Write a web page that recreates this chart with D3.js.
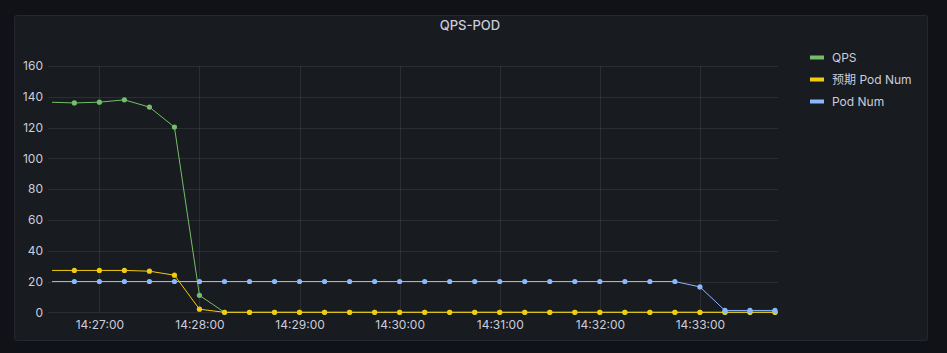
<!DOCTYPE html>
<html>
<head>
<meta charset="utf-8">
<script src="https://cdn.jsdelivr.net/npm/d3@7"></script>
<style>
	body { margin: 0; background: #111217; }
	#chart { width: 947px; height: 353px; }
	text { font-family: Inter, "Noto Sans CJK SC", sans-serif; }
</style>
</head>
<body>
<div id="chart"></div>
<script>

var times = ["14:26:30", "14:26:45", "14:27:00", "14:27:15", "14:27:30", "14:27:45",
			 "14:28:00", "14:28:15", "14:28:30", "14:28:45", "14:29:00", "14:29:15",
			 "14:29:30", "14:29:45", "14:30:00", "14:30:15", "14:30:30", "14:30:45",
			 "14:31:00", "14:31:15", "14:31:30", "14:31:45", "14:32:00", "14:32:15",
			 "14:32:30", "14:32:45", "14:33:00", "14:33:15", "14:33:30", "14:33:45"];

var qps = [136.5, 136, 136.5, 138, 133.3, 120.3,
		   11, 0, 0, 0, 0, 0,
		   0, 0, 0, 0, 0, 0,
		   0, 0, 0, 0, 0, 0,
		   0, 0, 0, 0, 0, 0];

var expectedPods = [27.2, 27.2, 27.2, 27.2, 26.7, 24.1,
					2, 0, 0, 0, 0, 0,
					0, 0, 0, 0, 0, 0,
					0, 0, 0, 0, 0, 0,
					0, 0, 0, 0, 0, 0];

var pods = [20, 20, 20, 20, 20, 20,
			20, 20, 20, 20, 20, 20,
			20, 20, 20, 20, 20, 20,
			20, 20, 20, 20, 20, 20,
			20, 20, 16.5, 1.2, 1.2, 1.2];

var seriesNames = ["QPS", "预期 Pod Num", "Pod Num"];
var yTicks = [0, 20, 40, 60, 80, 100, 120, 140, 160];
var timeRange = ["14:26:31.6", "14:33:46.8"];

function init(){

	var w = 947;
	var h = 353;
	var colors = ["#73bf69", "#f2cc0c", "#8ab8ff"];

	var parse = function(s){
		var p = s.split(":");
		return new Date(2024, 0, 1, +p[0], +p[1], 0, Math.round(parseFloat(p[2]) * 1000));
	};

	var series = [qps, expectedPods, pods].map(function(vals, i){
		return {
			name: seriesNames[i],
			color: colors[i],
			values: vals.map(function(v, j){ return [parse(times[j]), v]; })
		};
	});

	// plot area
	var left = 52, right = 778, top = 66, bottom = 312.3;

	var xScale = d3.scaleTime()
					.domain(timeRange.map(parse))
					.range([left, right]);

	var yScale = d3.scaleLinear()
					.domain([0, 160])
					.range([bottom, top]);

	var svg = d3.select("#chart")
				.append("svg")
				.attr("width", w)
				.attr("height", h);

	// panel
	svg.append("rect")
		.attr("x", 14.5)
		.attr("y", 15.5)
		.attr("width", 913)
		.attr("height", 325)
		.attr("rx", 2)
		.attr("fill", "#181b1f")
		.attr("stroke", "#24272d");

	svg.append("text")
		.attr("x", 470)
		.attr("y", 25)
		.attr("text-anchor", "middle")
		.attr("dominant-baseline", "central")
		.attr("font-size", 13)
		.attr("font-weight", 500)
		.attr("fill", "#ccccdc")
		.text("QPS-POD");

	// grid
	svg.append("g")
		.selectAll("line")
		.data(yTicks)
		.enter()
		.append("line")
		.attr("x1", 48)
		.attr("x2", right)
		.attr("y1", function(d){ return Math.round(yScale(d)) + 0.5; })
		.attr("y2", function(d){ return Math.round(yScale(d)) + 0.5; })
		.attr("stroke", "rgba(204,204,220,0.1)");

	var minutes = xScale.ticks(d3.timeMinute.every(1));

	svg.append("g")
		.selectAll("line")
		.data(minutes)
		.enter()
		.append("line")
		.attr("x1", function(d){ return Math.round(xScale(d)) + 0.5; })
		.attr("x2", function(d){ return Math.round(xScale(d)) + 0.5; })
		.attr("y1", top)
		.attr("y2", bottom)
		.attr("stroke", "rgba(204,204,220,0.1)");

	var xAxis = d3.axisBottom()
					.scale(xScale)
					.ticks(d3.timeMinute.every(1))
					.tickSize(0)
					.tickPadding(8)
					.tickFormat(d3.timeFormat("%H:%M:%S"));

	var gx = svg.append("g")
		.attr("transform", "translate(0, " + bottom + ")")
		.call(xAxis);

	var yAxis = d3.axisLeft()
					.scale(yScale)
					.tickValues(yTicks)
					.tickSize(0)
					.tickPadding(5);

	var gy = svg.append("g")
		.attr("transform", "translate(48, 0)")
		.call(yAxis);

	[gx, gy].forEach(function(g){
		g.select(".domain").remove();
		g.selectAll("text")
			.attr("font-family", "Inter, sans-serif")
			.attr("font-size", 12)
			.attr("fill", "#ccccdc");
	});

	// lines and points
	svg.append("clipPath")
		.attr("id", "clip")
		.append("rect")
		.attr("x", left)
		.attr("y", 0)
		.attr("width", right - left + 3)
		.attr("height", h);

	var line = d3.line()
				.x(function(d){ return xScale(d[0]); })
				.y(function(d){ return yScale(d[1]); });

	var plot = svg.append("g").attr("clip-path", "url(#clip)");

	series.forEach(function(s){
		plot.append("path")
			.datum(s.values)
			.attr("d", line)
			.attr("fill", "none")
			.attr("stroke", s.color)
			.attr("stroke-width", 1);

		plot.append("g")
			.selectAll("circle")
			.data(s.values.filter(function(d){ return xScale(d[0]) >= left; }))
			.enter()
			.append("circle")
			.attr("cx", function(d){ return xScale(d[0]); })
			.attr("cy", function(d){ return yScale(d[1]); })
			.attr("r", 2.6)
			.attr("fill", s.color);
	});

	// legend
	var legend = svg.append("g")
		.selectAll("g")
		.data(series)
		.enter()
		.append("g")
		.attr("transform", function(d, i){
			return "translate(810, " + (57.5 + i * 22) + ")";
		});

	legend.append("rect")
		.attr("x", 0)
		.attr("y", -2)
		.attr("width", 14)
		.attr("height", 4)
		.attr("fill", function(d){ return d.color; });

	legend.append("text")
		.attr("x", 22)
		.attr("y", 0)
		.attr("dominant-baseline", "central")
		.attr("font-size", 12)
		.attr("fill", "#ccccdc")
		.text(function(d){ return d.name; });

}

window.onload = init;
</script>
</body>
</html>
